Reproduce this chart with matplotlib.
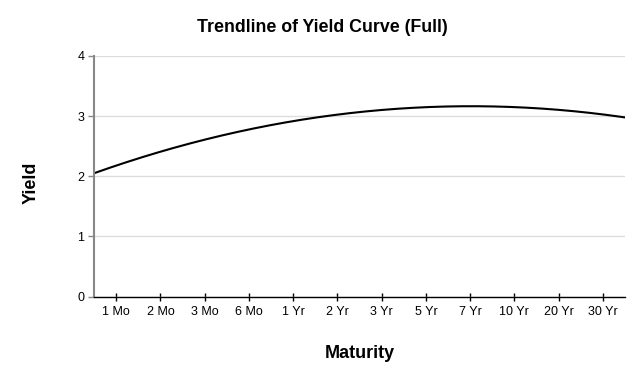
import numpy as np
import matplotlib
matplotlib.use("Agg")
import matplotlib.pyplot as plt

# Maturities on the x axis
maturities = ["1 Mo", "2 Mo", "3 Mo", "6 Mo", "1 Yr", "2 Yr",
              "3 Yr", "5 Yr", "7 Yr", "10 Yr", "20 Yr", "30 Yr"]

# Trend values at each maturity
trend_yield = [2.17, 2.41, 2.61, 2.78, 2.92, 3.02,
               3.10, 3.14, 3.16, 3.15, 3.10, 3.03]

y_ticks = [0, 1, 2, 3, 4]

plt.rcParams['font.family'] = ['Liberation Sans', 'DejaVu Sans']

fig = plt.figure(figsize=(6.44, 3.82), dpi=100)
ax = fig.add_axes([0.146, 0.2233, 0.8245, 0.6307])

# quadratic trendline through the category positions
pos = np.arange(1, len(maturities) + 1)
coef = np.polyfit(pos, trend_yield, 2)
xs = np.linspace(0.5, len(maturities) + 0.5, 300)
ax.plot(xs, np.polyval(coef, xs), color='black', linewidth=1.5)

ax.set_xlim(0.5, len(maturities) + 0.5)
ax.set_ylim(0, 4)
ax.set_xticks(pos)
ax.set_xticklabels(maturities, fontsize=9)
ax.set_yticks(y_ticks)
ax.set_yticklabels([str(t) for t in y_ticks], fontsize=9)

ax.grid(axis='y', color='#dddddd', linewidth=1)
ax.set_axisbelow(True)
for s in ['top', 'right']:
  ax.spines[s].set_visible(False)
ax.spines['left'].set_color('#888888')
ax.spines['left'].set_linewidth(1.5)
ax.spines['bottom'].set_color('black')
ax.spines['bottom'].set_linewidth(1)

ax.tick_params(axis='x', direction='inout', length=6, width=1, pad=4, colors='black')
ax.tick_params(axis='y', direction='out', length=4, width=1, pad=3,
               color='#888888', labelcolor='black')

# title is centred on the whole figure
fig.text(0.5, 1 - 28 / 382, "Trendline of Yield Curve (Full)", fontsize=12.8,
         fontweight='bold', ha='center', va='center')
ax.set_xlabel("Maturity", fontsize=13, fontweight='bold', labelpad=19)
ax.set_ylabel("Yield", fontsize=13, fontweight='bold')
ax.yaxis.set_label_coords(-0.103, 0.472)

fig.savefig("out.png", dpi=100)
